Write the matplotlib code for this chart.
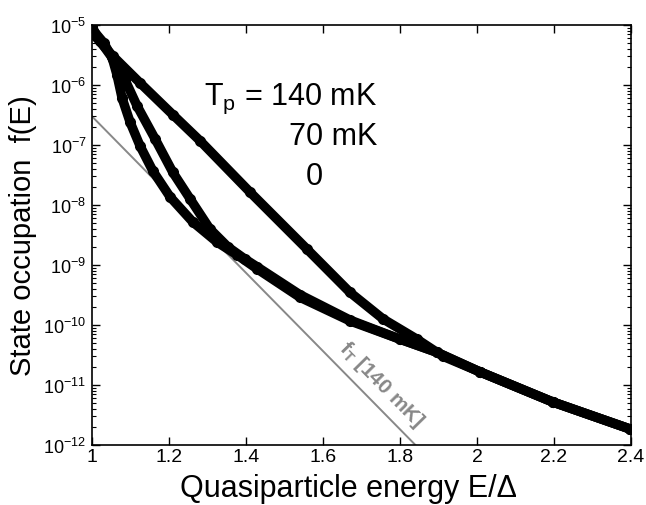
import matplotlib
matplotlib.use("Agg")
import matplotlib.pyplot as plt
from matplotlib.ticker import LogLocator, NullFormatter, FixedLocator
import numpy as np

plt.rcParams['font.family'] = ['Liberation Sans', 'DejaVu Sans']
plt.rcParams['mathtext.fontset'] = 'custom'
plt.rcParams['mathtext.rm'] = 'Liberation Sans'
plt.rcParams['mathtext.it'] = 'Liberation Sans:italic'

# Tp = 140 mK
E_140 = [1.000, 1.055, 1.125, 1.210, 1.281, 1.410, 1.558, 1.670, 1.756, 1.844, 1.912, 2.008, 2.197, 2.397]
f_140 = [7.4e-6, 3.0e-6, 1.08e-6, 3.2e-7, 1.17e-7, 1.65e-8, 1.85e-9, 3.5e-10, 1.26e-10, 5.8e-11, 3.0e-11, 1.65e-11, 5.2e-12, 1.85e-12]

# Tp = 70 mK
E_70 = [1.000, 1.021, 1.055, 1.086, 1.117, 1.164, 1.210, 1.255, 1.306, 1.353, 1.397, 1.429, 1.540, 1.670, 1.800, 1.896, 2.008, 2.197, 2.397]
f_70 = [9.3e-6, 5.4e-6, 2.7e-6, 1.21e-6, 4.5e-7, 1.26e-7, 3.5e-8, 1.26e-8, 4.0e-9, 2.0e-9, 1.26e-9, 9.3e-10, 3.2e-10, 1.21e-10, 5.8e-11, 3.5e-11, 1.65e-11, 5.2e-12, 1.85e-12]

# Tp = 0
E_0 = [1.000, 1.031, 1.052, 1.065, 1.078, 1.099, 1.125, 1.158, 1.203, 1.262, 1.325, 1.377, 1.429, 1.540, 1.670, 1.800, 1.896, 2.008, 2.197, 2.397]
f_0 = [8.6e-6, 5.0e-6, 2.9e-6, 1.47e-6, 6.1e-7, 2.4e-7, 9.6e-8, 3.7e-8, 1.36e-8, 5.2e-9, 2.4e-9, 1.47e-9, 8.6e-10, 2.9e-10, 1.17e-10, 5.8e-11, 3.5e-11, 1.65e-11, 5.2e-12, 1.85e-12]

# thermal distribution at 140 mK
E_T = [1.0, 1.84]
f_T = [3.0e-7, 1.0e-12]

xticks = [1, 1.2, 1.4, 1.6, 1.8, 2, 2.2, 2.4]
xticklabels = ['1', '1.2', '1.4', '1.6', '1.8', '2', '2.2', '2.4']
yticks = [1e-12, 1e-11, 1e-10, 1e-9, 1e-8, 1e-7, 1e-6, 1e-5]

fig = plt.figure(figsize=(6.46, 5.06), dpi=100)
ax = fig.add_axes([0.1424, 0.1186, 0.8344, 0.83])

ax.plot(E_T, f_T, color='#888888', lw=1.4, zorder=1)

for E, f in [(E_0, f_0), (E_70, f_70), (E_140, f_140)]:
    ax.plot(E, f, color='black', lw=6.8, marker='o', ms=7,
            solid_capstyle='round', solid_joinstyle='round', zorder=2)

ax.set_yscale('log')
ax.set_xlim(1, 2.4)
ax.set_ylim(1e-12, 1e-5)

ax.xaxis.set_major_locator(FixedLocator(xticks))
ax.set_xticklabels(xticklabels)
ax.yaxis.set_major_locator(FixedLocator(yticks))
ax.yaxis.set_minor_locator(LogLocator(base=10, subs=np.arange(2, 10), numticks=20))
ax.yaxis.set_minor_formatter(NullFormatter())

ax.tick_params(which='both', direction='in', top=True, right=True)
ax.tick_params(axis='x', labelsize=14, pad=2)
ax.tick_params(axis='y', labelsize=13, pad=4)
ax.tick_params(which='major', length=6, width=1)
ax.tick_params(which='minor', length=3, width=0.8)
ax.tick_params(axis='x', which='minor', bottom=False, top=False)
for s in ax.spines.values():
    s.set_linewidth(1.2)

ax.set_xlabel('Quasiparticle energy E/\u0394', fontsize=22)
ax.xaxis.label.set_va('baseline')
ax.xaxis.set_label_coords(0.476, -0.121)
ax.set_ylabel('State occupation  f(E)', fontsize=21)
ax.yaxis.label.set_va('center')
ax.yaxis.set_label_coords(-0.128, 0.5)

ax.text(0.529, 0.812, 'T$_\\mathregular{p}$ = 140 mK', transform=ax.transAxes,
        ha='right', va='baseline', fontsize=22)
ax.text(0.529, 0.717, '70 mK', transform=ax.transAxes, ha='right', va='baseline', fontsize=22)
ax.text(0.429, 0.621, '0', transform=ax.transAxes, ha='right', va='baseline', fontsize=22)

ax.text(1.751, 1.05e-11, 'f$_\\mathregular{T}$ [140 mK]', color='#888888', fontsize=15,
        fontweight='bold', rotation=-45.5, rotation_mode='anchor', ha='center', va='center')

fig.savefig('out.png', dpi=100)
